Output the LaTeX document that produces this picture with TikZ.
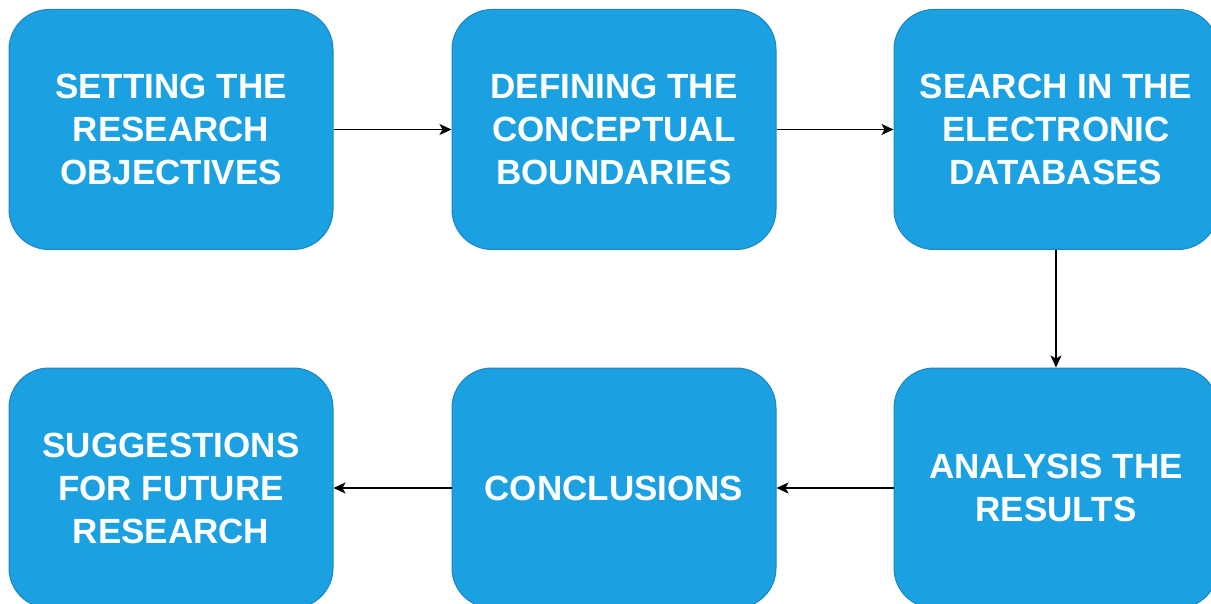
\documentclass[tikz,border=0pt]{standalone}
\usepackage{fontspec}
\setmainfont{Liberation Sans}
\usetikzlibrary{arrows.meta}
\definecolor{boxblue}{HTML}{1BA1E2}
\definecolor{boxline}{HTML}{1A84C4}
\tikzset{stepbox/.style={draw=boxline, fill=boxblue, line width=1pt, rounded corners=40pt,
  minimum width=324pt, minimum height=240pt, text=white, align=center,
  font=\fontsize{35}{43}\selectfont\bfseries}}
\begin{document}
\begin{tikzpicture}[x=1pt, y=-1pt]
\useasboundingbox (0,0) rectangle (1211,604);
\node[stepbox] (objectives) at (171,129.5) {SETTING THE\\RESEARCH\\OBJECTIVES};
\node[stepbox] (boundaries) at (614,129.5) {DEFINING THE\\CONCEPTUAL\\BOUNDARIES};
\node[stepbox] (databases) at (1056,129.5) {SEARCH IN THE\\ELECTRONIC\\DATABASES};
\node[stepbox] (results) at (1056,488) {ANALYSIS THE\\RESULTS};
\node[stepbox] (conclusions) at (614,488) {CONCLUSIONS};
\node[stepbox] (future) at (171,488) {SUGGESTIONS\\FOR FUTURE\\RESEARCH};
\foreach \a/\b in {objectives/boundaries, boundaries/databases, databases/results, results/conclusions, conclusions/future}
\draw[-{Stealth[length=12pt, width=11pt, inset=3pt]}, line width=1.3pt] (\a) -- (\b);
\end{tikzpicture}
\end{document}
